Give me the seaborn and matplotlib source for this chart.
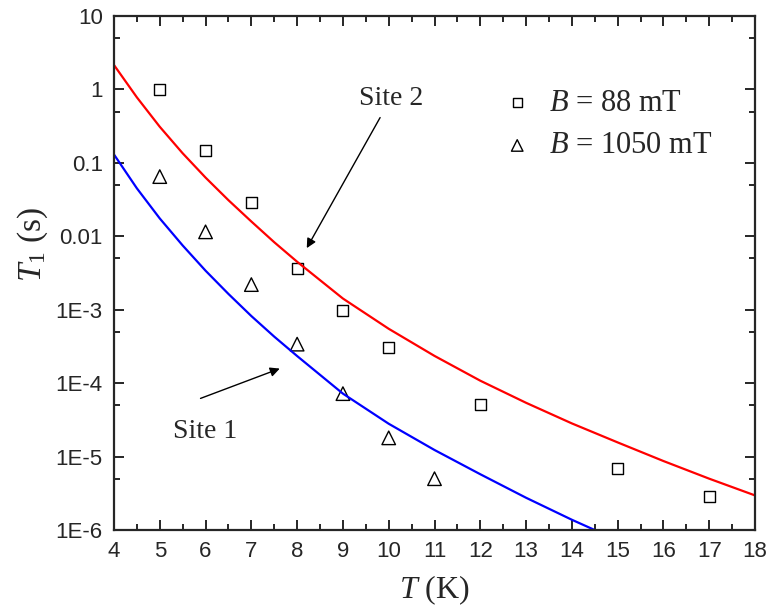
import matplotlib
matplotlib.use("Agg")
import matplotlib.pyplot as plt
import seaborn as sns
from matplotlib.ticker import FixedLocator, MultipleLocator, NullFormatter

# measured relaxation times
t_88 = [5, 6, 7, 8, 9, 10, 12, 15, 17]
t1_88 = [1.0, 0.146, 0.029, 0.0036, 0.00097, 0.00031, 5.1e-5, 6.9e-6, 2.9e-6]
t_1050 = [5, 6, 7, 8, 9, 10, 11]
t1_1050 = [0.065, 0.0115, 0.0022, 0.00034, 7.2e-5, 1.8e-5, 5.0e-6]

# model curves
site2_t = [4, 4.5, 5, 5.5, 6, 6.5, 7, 7.5, 8, 9, 10, 11, 12, 13, 14, 15, 16, 17, 18]
site2_t1 = [2.15, 0.78, 0.31, 0.135, 0.063, 0.031, 0.0159, 0.0083, 0.0045, 0.00142,
            5.5e-4, 2.35e-4, 1.08e-4, 5.4e-5, 2.83e-5, 1.56e-5, 8.7e-6, 5.0e-6, 2.96e-6]
site1_t = [4, 4.5, 5, 5.5, 6, 6.5, 7, 7.5, 8, 9, 10, 11, 12, 13, 14, 14.5]
site1_t1 = [0.13, 0.045, 0.0175, 0.0075, 0.0034, 0.00164, 8.2e-4, 4.3e-4, 2.34e-4,
            7.2e-5, 2.8e-5, 1.23e-5, 5.75e-6, 2.75e-6, 1.38e-6, 1.0e-6]

y_ticks = [1e-6, 1e-5, 1e-4, 1e-3, 0.01, 0.1, 1, 10]
y_labels = ["1E-6", "1E-5", "1E-4", "1E-3", "0.01", "0.1", "1", "10"]
y_minor = [5e-6, 5e-5, 5e-4, 5e-3, 0.05, 0.5, 5]

sns.set_style("ticks")
plt.rcParams["font.family"] = ["Liberation Sans", "DejaVu Sans"]
plt.rcParams["mathtext.fontset"] = "custom"
plt.rcParams["mathtext.rm"] = "Liberation Serif"
plt.rcParams["mathtext.it"] = "Liberation Serif:italic"

fig = plt.figure(figsize=(7.67, 6.10), dpi=100)
ax = fig.add_axes([0.1486, 0.1311, 0.8358, 0.8427])

sns.lineplot(x=site2_t, y=site2_t1, color="red", lw=1.6, ax=ax)
sns.lineplot(x=site1_t, y=site1_t1, color="blue", lw=1.6, ax=ax)
sns.scatterplot(x=t_88, y=t1_88, marker="s", s=62, fc="none", ec="black",
                linewidth=1.0, label="$B$ = 88 mT", ax=ax)
sns.scatterplot(x=t_1050, y=t1_1050, marker="^", s=95, fc="none", ec="black",
                linewidth=1.0, label="$B$ = 1050 mT", ax=ax)

ax.set_yscale("log")
ax.set_xlim(4, 18)
ax.set_ylim(1e-6, 10)
ax.xaxis.set_major_locator(MultipleLocator(1))
ax.xaxis.set_minor_locator(MultipleLocator(0.5))
ax.yaxis.set_major_locator(FixedLocator(y_ticks))
ax.yaxis.set_minor_locator(FixedLocator(y_minor))
ax.yaxis.set_minor_formatter(NullFormatter())
ax.set_yticklabels(y_labels)

ax.tick_params(which="both", direction="in", top=True, right=True,
               width=1.4, labelsize=16, pad=8)
ax.tick_params(which="major", length=7)
ax.tick_params(which="minor", length=4)
for sp in ax.spines.values():
    sp.set_linewidth(1.6)

serif = ["Liberation Serif", "DejaVu Serif"]
ax.set_xlabel("$T$ (K)", fontsize=23, family=serif, labelpad=8)
ax.set_ylabel("$T_1$ (s)", fontsize=24, family=serif)
ax.yaxis.set_label_coords(-0.1, 0.555)

ax.annotate("Site 2", xy=(8.21, 0.0069), xytext=(10.05, 0.76), fontsize=20,
            family=serif, ha="center", va="center",
            arrowprops=dict(arrowstyle="-|>", color="black", lw=1, mutation_scale=14,
                            shrinkA=3, shrinkB=0))
ax.annotate("", xy=(7.62, 1.58e-4), xytext=(5.89, 6.2e-5),
            arrowprops=dict(arrowstyle="-|>", color="black", lw=1, mutation_scale=14,
                            shrinkA=0, shrinkB=0))
ax.text(5.99, 2.2e-5, "Site 1", fontsize=20, family=serif, ha="center", va="center")

leg = ax.legend(loc="upper right", bbox_to_anchor=(0.977, 0.912), frameon=False,
                prop={"family": serif, "size": 22}, markerscale=0.85,
                handlelength=1.2, handletextpad=0.45, labelspacing=0.45)

fig.savefig("out.png", dpi=100)
